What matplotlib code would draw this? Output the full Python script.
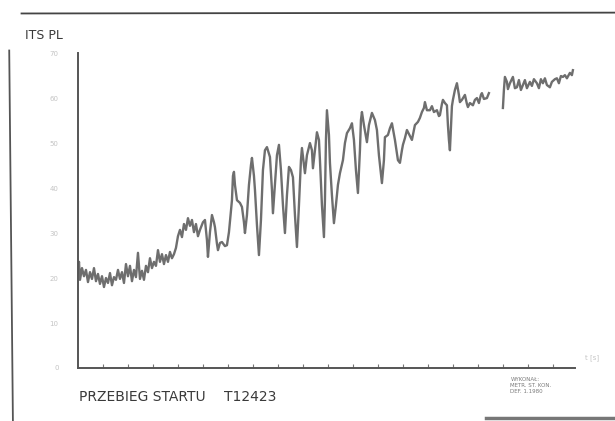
#!/usr/bin/env python3
"""Przebieg startu T12423 - odtworzenie wykresu z rejestratora."""
import numpy as np
import matplotlib
matplotlib.use('Agg')
import matplotlib.pyplot as plt
from matplotlib.lines import Line2D

# czas (jednostki osi X) i wartosc mierzona (jednostki osi Y)
t_a = [0.0, 0.2, 0.4, 0.8, 1.2, 1.6, 2.0, 2.4, 2.8, 3.2, 3.6, 4.0, 4.4, 4.8, 5.2, 5.6,
       6.0, 6.4, 6.8, 7.2, 7.6, 8.0, 8.4, 8.8, 9.2, 9.6, 10.0, 10.4, 10.8, 11.2, 11.6,
       12.0, 12.4, 12.8, 13.2, 13.6, 14.0, 14.4, 14.8, 15.2, 15.6, 16.0, 16.4, 16.8,
       17.2, 17.6, 18.0, 18.4, 18.8, 19.2, 19.6, 20.0, 20.4, 20.8, 21.2, 21.6, 22.0,
       22.4, 22.8, 23.2, 23.6, 24.0]
v_a = [21.3, 23.6, 19.6, 22.2, 20.4, 21.8, 19.1, 21.3, 19.8, 22.2, 19.3, 20.9, 18.7,
       20.4, 18.0, 20.0, 18.9, 21.1, 18.4, 20.2, 19.6, 21.8, 19.8, 21.3, 18.9, 23.1,
       20.4, 22.7, 19.3, 21.8, 20.2, 25.6, 19.8, 21.6, 19.6, 22.7, 21.3, 24.4, 22.2,
       23.6, 22.7, 26.2, 23.6, 25.3, 23.1, 25.1, 23.6, 25.8, 24.4, 25.3, 26.7, 29.3,
       30.7, 29.1, 32.0, 30.7, 33.3, 31.6, 32.9, 30.2, 32.0, 29.3]

t_b = [24.4, 25.0, 25.4, 25.8, 26.0, 26.4, 26.8, 27.2, 27.4, 27.8, 28.0, 28.4, 28.8,
       29.4, 29.8, 30.2, 30.6, 30.8, 31.0, 31.2, 31.4, 31.8, 32.4, 32.8, 33.2, 33.4,
       33.8, 34.2, 34.6, 34.8, 35.2, 35.4, 35.8, 36.2, 36.6, 37.0, 37.4, 37.8, 38.4,
       38.8, 39.0, 39.4, 39.8, 40.2, 40.6, 41.0, 41.4, 41.8, 42.2, 42.6, 43.0, 43.4,
       43.8, 44.2, 44.6, 44.8, 45.2, 45.4, 45.8, 46.4, 46.8, 47.0, 47.4, 47.8, 48.2,
       48.4, 48.8, 49.2, 49.4, 49.6, 49.8, 50.2, 50.4, 50.8, 51.2, 51.6, 52.0, 52.4,
       53.0, 53.4, 53.8, 54.4, 54.8, 55.2, 55.6, 56.0, 56.4, 56.6, 56.8, 57.2, 57.8,
       58.2, 58.8, 59.4, 59.8, 60.2, 60.8, 61.2, 61.4, 62.0, 62.4, 62.8, 63.4, 64.0]
v_b = [30.7, 32.4, 32.9, 28.4, 24.7, 30.2, 34.0, 32.4, 31.3, 27.6, 26.2, 27.8, 28.0,
       27.1, 27.3, 30.2, 35.1, 37.3, 42.7, 43.6, 40.7, 37.3, 36.7, 35.8, 32.4, 30.0,
       34.0, 40.7, 45.1, 46.7, 42.7, 39.6, 31.8, 25.1, 32.9, 44.0, 48.4, 49.1, 46.9,
       39.6, 34.4, 40.7, 47.3, 49.6, 44.0, 36.2, 30.0, 38.4, 44.7, 44.0, 42.4, 34.0,
       26.9, 36.2, 46.2, 48.9, 45.1, 43.3, 47.3, 50.0, 48.4, 44.4, 48.4, 52.4, 50.7,
       46.2, 36.2, 29.1, 37.3, 50.7, 57.3, 51.8, 45.6, 38.4, 32.2, 36.2, 40.7, 43.3,
       46.2, 50.0, 52.2, 53.3, 54.4, 50.7, 44.0, 38.9, 48.4, 55.1, 56.9, 54.0, 50.2,
       54.0, 56.7, 55.1, 52.9, 47.3, 41.1, 46.2, 51.3, 51.8, 53.3, 54.4, 50.7, 46.2]

t_c = [64.4, 64.8, 65.0, 65.4, 65.8, 66.4, 66.8, 67.2, 67.4, 68.0, 68.4, 68.8, 69.2,
       69.4, 69.8, 70.4, 70.8, 71.2, 71.8, 72.2, 72.4, 72.8, 73.0, 73.4, 73.8, 74.0,
       74.2, 74.4, 74.6, 74.8, 75.0, 75.4, 75.8, 76.2, 76.4, 76.8, 77.4, 77.8, 78.0,
       78.4, 79.0, 79.4, 79.8, 80.2, 80.6, 80.8, 81.2, 81.8, 82.2]
v_c = [45.6, 48.4, 49.6, 51.1, 52.9, 51.6, 50.7, 52.9, 54.0, 54.7, 55.6, 56.9, 57.8,
       59.1, 57.3, 57.3, 58.2, 56.9, 57.3, 56.0, 56.2, 58.7, 59.6, 58.9, 58.4, 54.0,
       50.7, 48.4, 53.3, 58.2, 59.6, 61.8, 63.3, 60.7, 59.1, 59.6, 60.7, 58.7, 58.0,
       58.9, 58.4, 59.6, 60.0, 58.9, 60.7, 61.1, 59.8, 60.0, 61.1]

t_d = [85.0, 85.2, 85.4, 85.8, 86.0, 86.4, 86.8, 87.0, 87.4, 87.8, 88.2, 88.6, 89.0,
       89.4, 89.8, 90.4, 90.8, 91.2, 91.8, 92.2, 92.6, 93.0, 93.4, 93.8, 94.4, 94.8,
       95.4, 95.8, 96.2, 96.6, 97.0, 97.4, 97.8, 98.4, 98.8, 99.0]
v_d = [57.8, 61.8, 64.7, 63.6, 62.0, 63.3, 64.2, 64.7, 62.2, 62.4, 64.0, 61.8, 62.9,
       64.0, 62.2, 63.6, 62.7, 64.2, 63.3, 62.2, 64.2, 63.3, 64.4, 62.9, 62.4, 63.6,
       64.2, 64.4, 63.3, 64.9, 64.7, 65.1, 64.4, 65.6, 65.1, 66.2]

y_ticks = [0, 10, 20, 30, 40, 50, 60, 70]
y_ticklabels = ['0', '10', '20', '30', '40', '50', '60', '70']

fig = plt.figure(figsize=(6.15, 4.21), dpi=100)
ax = fig.add_axes([0.1268, 0.1259, 0.808, 0.748])

# zapis rejestratora, z przerwa miedzy t=82 a t=85
t_all = t_a + t_b + t_c + [np.nan] + t_d
v_all = v_a + v_b + v_c + [np.nan] + v_d
ax.plot(t_all, v_all, color='#6e6e6e', lw=1.7, solid_joinstyle='round')

ax.set_xlim(0, 99.4)
ax.set_ylim(0, 70)
for s in ['top', 'right']:
    ax.spines[s].set_visible(False)
for s in ['left', 'bottom']:
    ax.spines[s].set_color('#555555')
    ax.spines[s].set_linewidth(1.4)

ax.set_yticks(y_ticks)
ax.set_yticklabels(y_ticklabels, color='#c4c4c4', fontsize=5)
ax.tick_params(axis='y', length=0, pad=14)
ax.set_xticks(np.arange(5, 99, 5))
ax.set_xticklabels([])
ax.tick_params(axis='x', direction='in', length=3, color='#777777')

# opisy
fig.text(0.041, 0.915, 'ITS PL', fontsize=9, color='#3a3a3a', va='center')
fig.text(0.128, 0.057, 'PRZEBIEG STARTU', fontsize=10, color='#3a3a3a', va='center')
fig.text(0.365, 0.057, 'T12423', fontsize=10, color='#3a3a3a', va='center')
fig.text(0.952, 0.150, 't [s]', fontsize=5, color='#c4c4c4', va='center')
fig.text(0.830, 0.085, 'WYKONAŁ:\nMETR. ST. KON.\nDEF. 1.1980', fontsize=4,
         color='#7a7a7a', va='center', linespacing=1.3)

# ramka skanu
fig.add_artist(Line2D([0.035, 1.0], [0.968, 0.970], color='#444444', lw=1.3))
fig.add_artist(Line2D([0.015, 0.021], [0.88, 0.0], color='#555555', lw=1.3))
fig.add_artist(Line2D([0.79, 1.0], [0.007, 0.007], color='#777777', lw=2.5))

fig.savefig('out.png', dpi=100)
print("Saved out.png")
